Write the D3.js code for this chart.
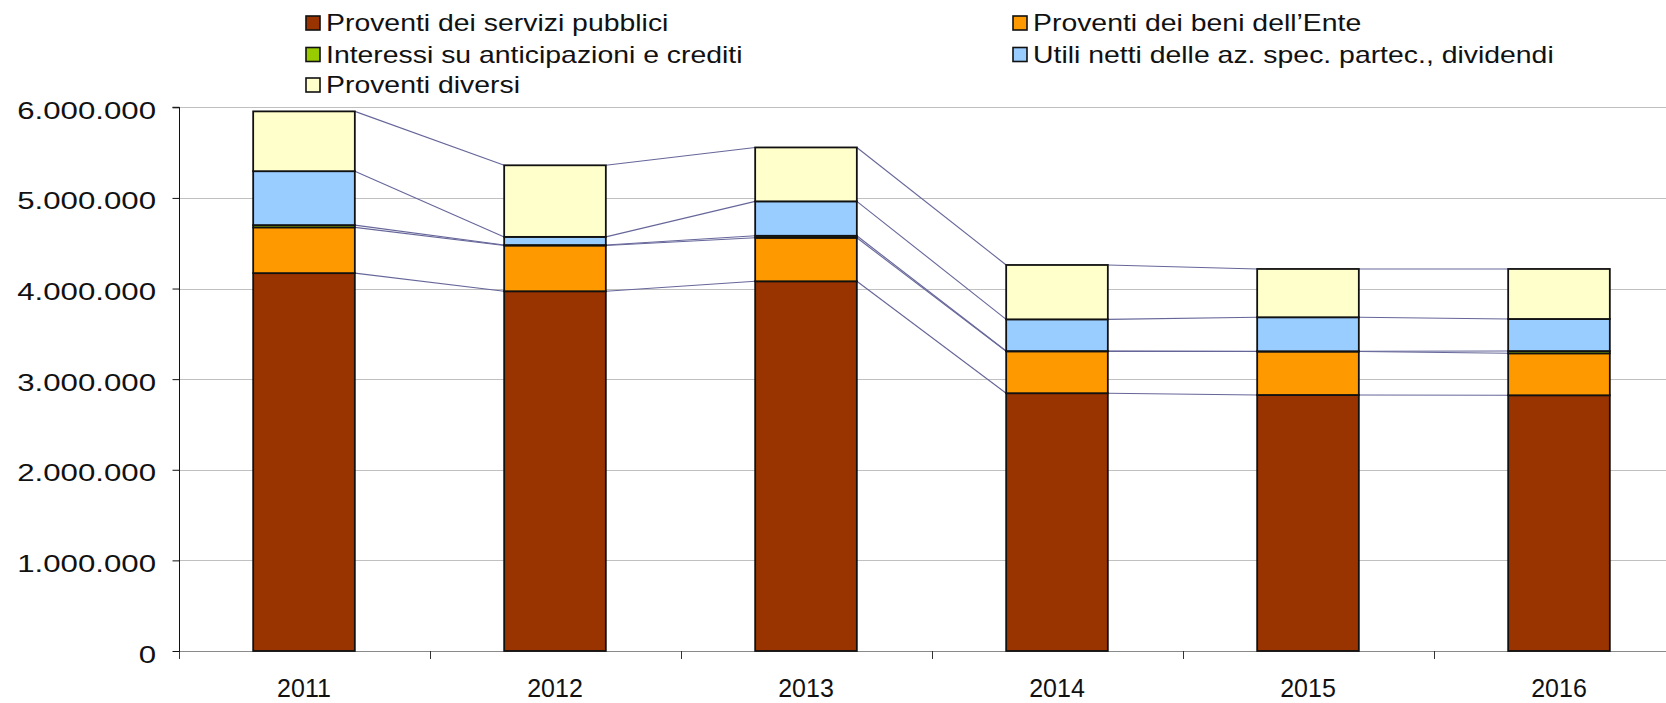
<!DOCTYPE html>
<html>
<head>
<meta charset="utf-8">
<script src="https://cdn.jsdelivr.net/npm/d3@7"></script>
<style>
  html, body { margin: 0; padding: 0; background: #ffffff; }
  svg { display: block; }
  text { font-family: "Liberation Sans", Arial, sans-serif; fill: #111; }
</style>
</head>
<body>
<svg id="chart" width="1666" height="703"></svg>
<script>
// ---- data ----
const years = ["2011", "2012", "2013", "2014", "2015", "2016"];
const seriesNames = [
  "Proventi dei servizi pubblici",
  "Proventi dei beni dell\u2019Ente",
  "Interessi su anticipazioni e crediti",
  "Utili netti delle az. spec. partec., dividendi",
  "Proventi diversi"
];
const seriesColors = ["#993300", "#FF9900", "#99CC00", "#99CCFF", "#FFFFCC"];
const serviziPubblici = [4170000, 3970000, 4080000, 2845000, 2825000, 2822000];
const beniEnte        = [ 505000,  505000,  480000,  462000,  480000,  463000];
const interessi       = [  25000,    5000,   22000,    3000,    3000,   25000];
const utiliNetti      = [ 595000,   90000,  380000,  350000,  375000,  354000];
const proventiDiversi = [ 660000,  790000,  595000,  600000,  533000,  552000];
const yTicks = [0, 1000000, 2000000, 3000000, 4000000, 5000000, 6000000];

const seriesValues = [serviziPubblici, beniEnte, interessi, utiliNetti, proventiDiversi];
const rows = years.map((yr, j) => {
  const r = { year: yr };
  seriesNames.forEach((n, i) => { r[n] = seriesValues[i][j]; });
  return r;
});
const stacked = d3.stack().keys(seriesNames)(rows);

// ---- layout ----
const svg = d3.select("#chart");
const W = 1666;
const plotLeft = 178.5, plotBottom = 651, plotTop = 107.3;

const x = d3.scaleBand()
  .domain(years)
  .range([plotLeft, plotLeft + 251 * years.length])
  .paddingInner(0.595)
  .paddingOuter(0.2975);
const y = d3.scaleLinear().domain([0, 6000000]).range([plotBottom, plotTop]);

const it = d3.formatLocale({ decimal: ",", thousands: ".", grouping: [3], currency: ["", "\u20ac"] });
const fmt = it.format(",d");

// horizontal gridlines
svg.append("g")
  .selectAll("line")
  .data(yTicks.filter(d => d > 0))
  .join("line")
  .attr("x1", plotLeft).attr("x2", W)
  .attr("y1", d => Math.round(y(d)) + 0.5).attr("y2", d => Math.round(y(d)) + 0.5)
  .attr("stroke", "#c0c0c0").attr("stroke-width", 1);

// x axis (category boundaries as ticks)
const step = x.step();
const boundaries = d3.range(years.length + 1).map(k => plotLeft + k * step);
const xAxisG = svg.append("g");
xAxisG.append("line")
  .attr("x1", plotLeft).attr("x2", W)
  .attr("y1", plotBottom + 0.5).attr("y2", plotBottom + 0.5)
  .attr("stroke", "#8a8a8a").attr("stroke-width", 1.2);
xAxisG.selectAll("line.tick")
  .data(boundaries)
  .join("line")
  .attr("class", "tick")
  .attr("x1", d => Math.round(d) + 0.5).attr("x2", d => Math.round(d) + 0.5)
  .attr("y1", plotBottom).attr("y2", plotBottom + 8)
  .attr("stroke", "#333").attr("stroke-width", 1);
xAxisG.selectAll("text")
  .data(years)
  .join("text")
  .attr("x", d => x(d) + x.bandwidth() / 2)
  .attr("y", 697)
  .attr("text-anchor", "middle")
  .style("font-size", "25px")
  .text(d => d);

// y axis
const yAxis = d3.axisLeft(y).tickValues(yTicks).tickSize(7).tickFormat(fmt);
const yAxisG = svg.append("g")
  .attr("transform", `translate(${Math.round(plotLeft) + 0.5},0)`)
  .call(yAxis);
yAxisG.select(".domain").attr("stroke", "#111").attr("d", `M-7,${y(6000000)}H0V${plotBottom}`);
yAxisG.selectAll(".tick line").attr("stroke", "#111");
yAxisG.selectAll(".tick text")
  .attr("x", null).attr("dy", null).attr("y", null)
  .attr("transform", "translate(-23.5,11) scale(1.3,1)")
  .attr("text-anchor", "end")
  .style("font-family", "\"Liberation Sans\", Arial, sans-serif")
  .style("font-size", "24px")
  .attr("fill", "#111");

// connector lines between the tops of each series
const connectors = [];
stacked.forEach(s => {
  for (let j = 0; j < years.length - 1; j++) {
    connectors.push({
      x1: x(years[j]) + x.bandwidth(), y1: y(s[j][1]),
      x2: x(years[j + 1]), y2: y(s[j + 1][1])
    });
  }
});
svg.append("g")
  .selectAll("line")
  .data(connectors)
  .join("line")
  .attr("x1", d => d.x1).attr("y1", d => d.y1)
  .attr("x2", d => d.x2).attr("y2", d => d.y2)
  .attr("stroke", "#66669a").attr("stroke-width", 1.1);

// stacked bars
svg.append("g")
  .selectAll("g")
  .data(stacked)
  .join("g")
  .attr("fill", (d, i) => seriesColors[i])
  .selectAll("rect")
  .data(d => d.map((v, j) => ({ v, year: years[j] })))
  .join("rect")
  .attr("x", d => x(d.year))
  .attr("width", x.bandwidth())
  .attr("y", d => y(d.v[1]))
  .attr("height", d => y(d.v[0]) - y(d.v[1]))
  .attr("stroke", "#111")
  .attr("stroke-width", 1.8);

// legend: two columns
const legendPos = [
  { tx: 326, row: 0 }, { tx: 1033, row: 0 },
  { tx: 326, row: 1 }, { tx: 1033, row: 1 },
  { tx: 326, row: 2 }
];
const rowBase = [31, 62.5, 93];
const legend = svg.append("g");
seriesNames.forEach((name, i) => {
  const p = legendPos[i];
  const base = rowBase[p.row];
  legend.append("rect")
    .attr("x", p.tx - 20).attr("y", base - 15)
    .attr("width", 14).attr("height", 14)
    .attr("fill", seriesColors[i])
    .attr("stroke", "#111").attr("stroke-width", 1.6);
  legend.append("text")
    .attr("transform", `translate(${p.tx},${base}) scale(1.235,1)`)
    .style("font-size", "23px")
    .text(name);
});
</script>
</body>
</html>
